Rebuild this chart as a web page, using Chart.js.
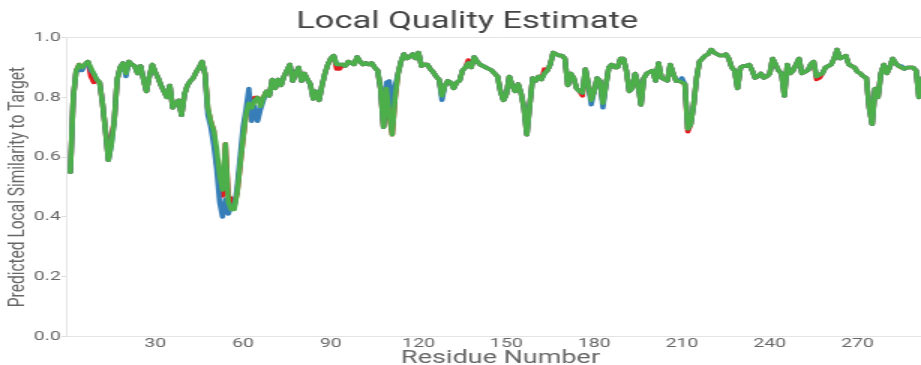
<!DOCTYPE html>
<html>
<head>
<meta charset="utf-8">
<script src="https://cdn.jsdelivr.net/npm/chart.js@4.4.1/dist/chart.umd.min.js"></script>
<style>
  html, body { margin: 0; padding: 0; background: #fff; overflow: hidden; }
  /* chart is laid out narrow and widened horizontally */
  #wrap { width: 624px; height: 365px; transform: scaleX(1.5); transform-origin: 0 0; }
</style>
</head>
<body>
<div id="wrap"><canvas id="chart" width="624" height="365"></canvas></div>
<script>
// Per-residue predicted local similarity for three models
const seriesBlue = [
  0.55,0.80,0.89,0.89,0.89,0.91,0.92,0.89,0.88,0.86,
  0.85,0.78,0.69,0.59,0.64,0.72,0.86,0.90,0.915,0.87,
  0.92,0.91,0.905,0.88,0.905,0.86,0.82,0.87,0.91,0.885,
  0.865,0.84,0.82,0.80,0.84,0.765,0.78,0.79,0.74,0.81,
  0.84,0.855,0.865,0.885,0.90,0.92,0.88,0.74,0.70,0.64,
  0.56,0.45,0.40,0.46,0.41,0.44,0.43,0.50,0.60,0.70,
  0.76,0.83,0.72,0.77,0.72,0.76,0.79,0.82,0.805,0.86,
  0.83,0.86,0.84,0.87,0.89,0.91,0.855,0.88,0.90,0.855,
  0.88,0.86,0.845,0.795,0.82,0.79,0.84,0.88,0.91,0.93,
  0.94,0.91,0.91,0.91,0.905,0.92,0.915,0.91,0.935,0.92,
  0.91,0.915,0.91,0.915,0.90,0.89,0.83,0.70,0.85,0.855,
  0.77,0.84,0.88,0.92,0.945,0.93,0.935,0.945,0.93,0.95,
  0.905,0.91,0.91,0.895,0.885,0.87,0.86,0.79,0.84,0.855,
  0.85,0.83,0.85,0.855,0.89,0.90,0.915,0.90,0.935,0.92,
  0.91,0.905,0.90,0.895,0.89,0.88,0.87,0.82,0.79,0.81,
  0.87,0.84,0.82,0.845,0.815,0.765,0.675,0.775,0.865,0.855,
  0.87,0.86,0.88,0.89,0.91,0.95,0.945,0.94,0.94,0.93,
  0.84,0.88,0.865,0.83,0.82,0.815,0.895,0.845,0.775,0.82,
  0.865,0.855,0.765,0.84,0.90,0.91,0.90,0.90,0.93,0.93,
  0.89,0.82,0.83,0.88,0.845,0.775,0.865,0.88,0.885,0.89,
  0.855,0.915,0.865,0.86,0.855,0.91,0.88,0.855,0.855,0.865,
  0.845,0.695,0.71,0.775,0.865,0.92,0.93,0.94,0.945,0.96,
  0.95,0.945,0.94,0.94,0.945,0.93,0.90,0.89,0.83,0.90,
  0.905,0.905,0.91,0.89,0.865,0.87,0.88,0.865,0.87,0.88,
  0.93,0.91,0.89,0.88,0.805,0.91,0.88,0.89,0.91,0.93,
  0.88,0.885,0.89,0.91,0.92,0.87,0.875,0.88,0.90,0.905,
  0.91,0.93,0.96,0.93,0.935,0.94,0.91,0.905,0.90,0.885,
  0.88,0.87,0.865,0.765,0.71,0.83,0.80,0.88,0.91,0.88,
  0.90,0.93,0.915,0.905,0.905,0.895,0.90,0.90,0.90,0.89,
  0.80,0.86,0.88,0.89,0.88,0.87
];

const seriesRed = [
  0.55,0.80,0.89,0.91,0.90,0.91,0.92,0.87,0.85,0.86,
  0.85,0.78,0.69,0.59,0.67,0.72,0.86,0.90,0.915,0.88,
  0.92,0.91,0.905,0.88,0.905,0.86,0.82,0.87,0.91,0.885,
  0.865,0.84,0.82,0.80,0.84,0.765,0.78,0.79,0.74,0.81,
  0.84,0.855,0.865,0.885,0.90,0.92,0.88,0.76,0.72,0.69,
  0.58,0.52,0.47,0.645,0.47,0.46,0.44,0.48,0.57,0.66,
  0.74,0.78,0.765,0.80,0.80,0.79,0.80,0.82,0.805,0.86,
  0.83,0.86,0.84,0.87,0.89,0.91,0.855,0.88,0.90,0.855,
  0.88,0.86,0.845,0.795,0.82,0.79,0.84,0.88,0.91,0.93,
  0.94,0.895,0.895,0.91,0.905,0.92,0.915,0.91,0.935,0.92,
  0.91,0.915,0.91,0.915,0.90,0.89,0.83,0.70,0.83,0.74,
  0.675,0.80,0.88,0.92,0.945,0.93,0.935,0.945,0.93,0.95,
  0.905,0.91,0.91,0.895,0.885,0.87,0.86,0.805,0.84,0.855,
  0.85,0.83,0.85,0.855,0.89,0.90,0.925,0.90,0.935,0.92,
  0.91,0.905,0.90,0.895,0.89,0.88,0.87,0.82,0.79,0.81,
  0.87,0.84,0.82,0.845,0.815,0.765,0.675,0.775,0.865,0.855,
  0.87,0.86,0.895,0.89,0.91,0.95,0.945,0.94,0.94,0.93,
  0.84,0.88,0.865,0.83,0.82,0.805,0.895,0.845,0.79,0.82,
  0.865,0.855,0.78,0.84,0.90,0.91,0.90,0.90,0.93,0.93,
  0.89,0.82,0.83,0.88,0.845,0.775,0.865,0.88,0.885,0.89,
  0.855,0.915,0.865,0.86,0.855,0.91,0.88,0.855,0.855,0.85,
  0.845,0.685,0.71,0.775,0.865,0.92,0.93,0.94,0.945,0.96,
  0.95,0.945,0.94,0.94,0.945,0.93,0.90,0.89,0.83,0.90,
  0.905,0.905,0.91,0.89,0.865,0.87,0.88,0.865,0.87,0.88,
  0.93,0.91,0.89,0.88,0.805,0.91,0.88,0.89,0.91,0.93,
  0.88,0.885,0.89,0.91,0.92,0.86,0.865,0.88,0.90,0.905,
  0.91,0.93,0.96,0.93,0.935,0.94,0.91,0.905,0.90,0.885,
  0.88,0.87,0.865,0.765,0.71,0.83,0.80,0.88,0.91,0.88,
  0.90,0.93,0.915,0.905,0.90,0.895,0.90,0.90,0.90,0.89,
  0.80,0.86,0.88,0.89,0.88,0.87
];

const seriesGreen = [
  0.55,0.80,0.89,0.91,0.90,0.91,0.92,0.90,0.88,0.86,
  0.85,0.78,0.69,0.59,0.64,0.72,0.86,0.90,0.915,0.88,
  0.92,0.91,0.905,0.88,0.905,0.86,0.82,0.87,0.91,0.885,
  0.865,0.84,0.82,0.80,0.84,0.765,0.78,0.79,0.74,0.81,
  0.84,0.855,0.865,0.885,0.90,0.92,0.88,0.765,0.72,0.69,
  0.63,0.54,0.49,0.645,0.45,0.425,0.425,0.48,0.57,0.66,
  0.74,0.78,0.765,0.79,0.80,0.77,0.80,0.82,0.805,0.86,
  0.83,0.86,0.84,0.87,0.89,0.91,0.855,0.88,0.90,0.855,
  0.88,0.86,0.845,0.795,0.82,0.79,0.84,0.88,0.91,0.93,
  0.94,0.91,0.91,0.91,0.905,0.92,0.915,0.91,0.935,0.92,
  0.91,0.915,0.91,0.915,0.90,0.89,0.83,0.70,0.83,0.74,
  0.675,0.80,0.88,0.92,0.945,0.93,0.935,0.945,0.93,0.95,
  0.905,0.91,0.91,0.895,0.885,0.87,0.86,0.805,0.84,0.855,
  0.85,0.83,0.85,0.855,0.89,0.90,0.915,0.90,0.935,0.92,
  0.91,0.905,0.90,0.895,0.89,0.88,0.87,0.82,0.79,0.81,
  0.87,0.84,0.82,0.845,0.815,0.765,0.675,0.775,0.865,0.855,
  0.87,0.86,0.88,0.89,0.91,0.95,0.945,0.94,0.94,0.93,
  0.84,0.88,0.865,0.83,0.82,0.815,0.895,0.845,0.79,0.82,
  0.865,0.855,0.78,0.84,0.90,0.91,0.90,0.90,0.93,0.93,
  0.89,0.82,0.83,0.88,0.845,0.775,0.865,0.88,0.885,0.89,
  0.855,0.915,0.865,0.86,0.855,0.91,0.88,0.855,0.855,0.85,
  0.845,0.695,0.71,0.775,0.865,0.92,0.93,0.94,0.945,0.96,
  0.95,0.945,0.94,0.94,0.945,0.93,0.90,0.89,0.83,0.90,
  0.905,0.905,0.91,0.89,0.865,0.87,0.88,0.865,0.87,0.88,
  0.93,0.91,0.89,0.88,0.805,0.91,0.88,0.89,0.91,0.93,
  0.88,0.885,0.89,0.91,0.92,0.87,0.875,0.88,0.90,0.905,
  0.91,0.93,0.96,0.93,0.935,0.94,0.91,0.905,0.90,0.885,
  0.88,0.87,0.865,0.765,0.71,0.83,0.80,0.88,0.91,0.88,
  0.90,0.93,0.915,0.905,0.90,0.895,0.90,0.90,0.90,0.89,
  0.80,0.86,0.88,0.89,0.88,0.87
];

// Residue numbers start at 1
const residues = seriesGreen.map((_, i) => i + 1);
const xTickValues = [30, 60, 90, 120, 150, 180, 210, 240, 270];
const yTickValues = [0, 0.2, 0.4, 0.6, 0.8, 1.0];

const toPoints = arr => arr.map((v, i) => ({ x: residues[i], y: v }));

const lineStyle = {
  borderWidth: 3.5, borderJoinStyle: 'round', borderCapStyle: 'round',
  pointRadius: 0, pointHoverRadius: 0, tension: 0, fill: false
};

new Chart(document.getElementById('chart'), {
  type: 'line',
  data: {
    datasets: [
      Object.assign({ label: 'Model 3', data: toPoints(seriesGreen), borderColor: '#4daf4a', order: 0 }, lineStyle),
      Object.assign({ label: 'Model 1', data: toPoints(seriesBlue), borderColor: '#377eb8', order: 1 }, lineStyle),
      Object.assign({ label: 'Model 2', data: toPoints(seriesRed), borderColor: '#e41a1c', order: 2 }, lineStyle)
    ]
  },
  options: {
    responsive: false,
    animation: false,
    layout: { padding: { left: 0.5, right: 1.6, top: 0, bottom: 0 } },
    plugins: {
      legend: { display: false },
      tooltip: { enabled: false },
      title: {
        display: true,
        text: 'Local Quality Estimate',
        color: '#444',
        font: { family: 'Roboto', size: 23, weight: 'normal' },
        padding: { top: 8, bottom: 2 }
      }
    },
    scales: {
      x: {
        type: 'linear',
        min: 0,
        max: 296,
        afterBuildTicks: scale => { scale.ticks = xTickValues.map(v => ({ value: v })); },
        grid: { display: false, drawTicks: false },
        border: { display: true, color: '#e4e4e4', width: 1 },
        ticks: { color: '#666', font: { family: 'Roboto', size: 13, lineHeight: 1 }, padding: 1, maxRotation: 0, autoSkip: false },
        title: {
          display: true,
          text: 'Residue Number',
          color: '#666',
          font: { family: 'Roboto', size: 18, lineHeight: 0.75 },
          padding: { top: 0, bottom: 0 }
        }
      },
      y: {
        min: 0,
        max: 1,
        afterBuildTicks: scale => { scale.ticks = yTickValues.map(v => ({ value: v })); },
        grid: {
          color: ctx => (ctx.tick && ctx.tick.value === 1) ? '#e4e4e4' : 'rgba(0,0,0,0)',
          tickColor: '#dddddd',
          tickLength: 4
        },
        border: { display: true, color: '#e4e4e4', width: 1 },
        ticks: {
          color: '#666',
          font: { family: 'Roboto', size: 13 },
          padding: 0.5,
          callback: v => Number(v).toFixed(1)
        },
        title: {
          display: true,
          text: 'Predicted Local Similarity to Target',
          color: '#666',
          font: { family: 'Roboto', size: 15.5 },
          padding: { top: 2.3, bottom: 0.5 }
        }
      }
    }
  }
});
</script>
</body>
</html>
